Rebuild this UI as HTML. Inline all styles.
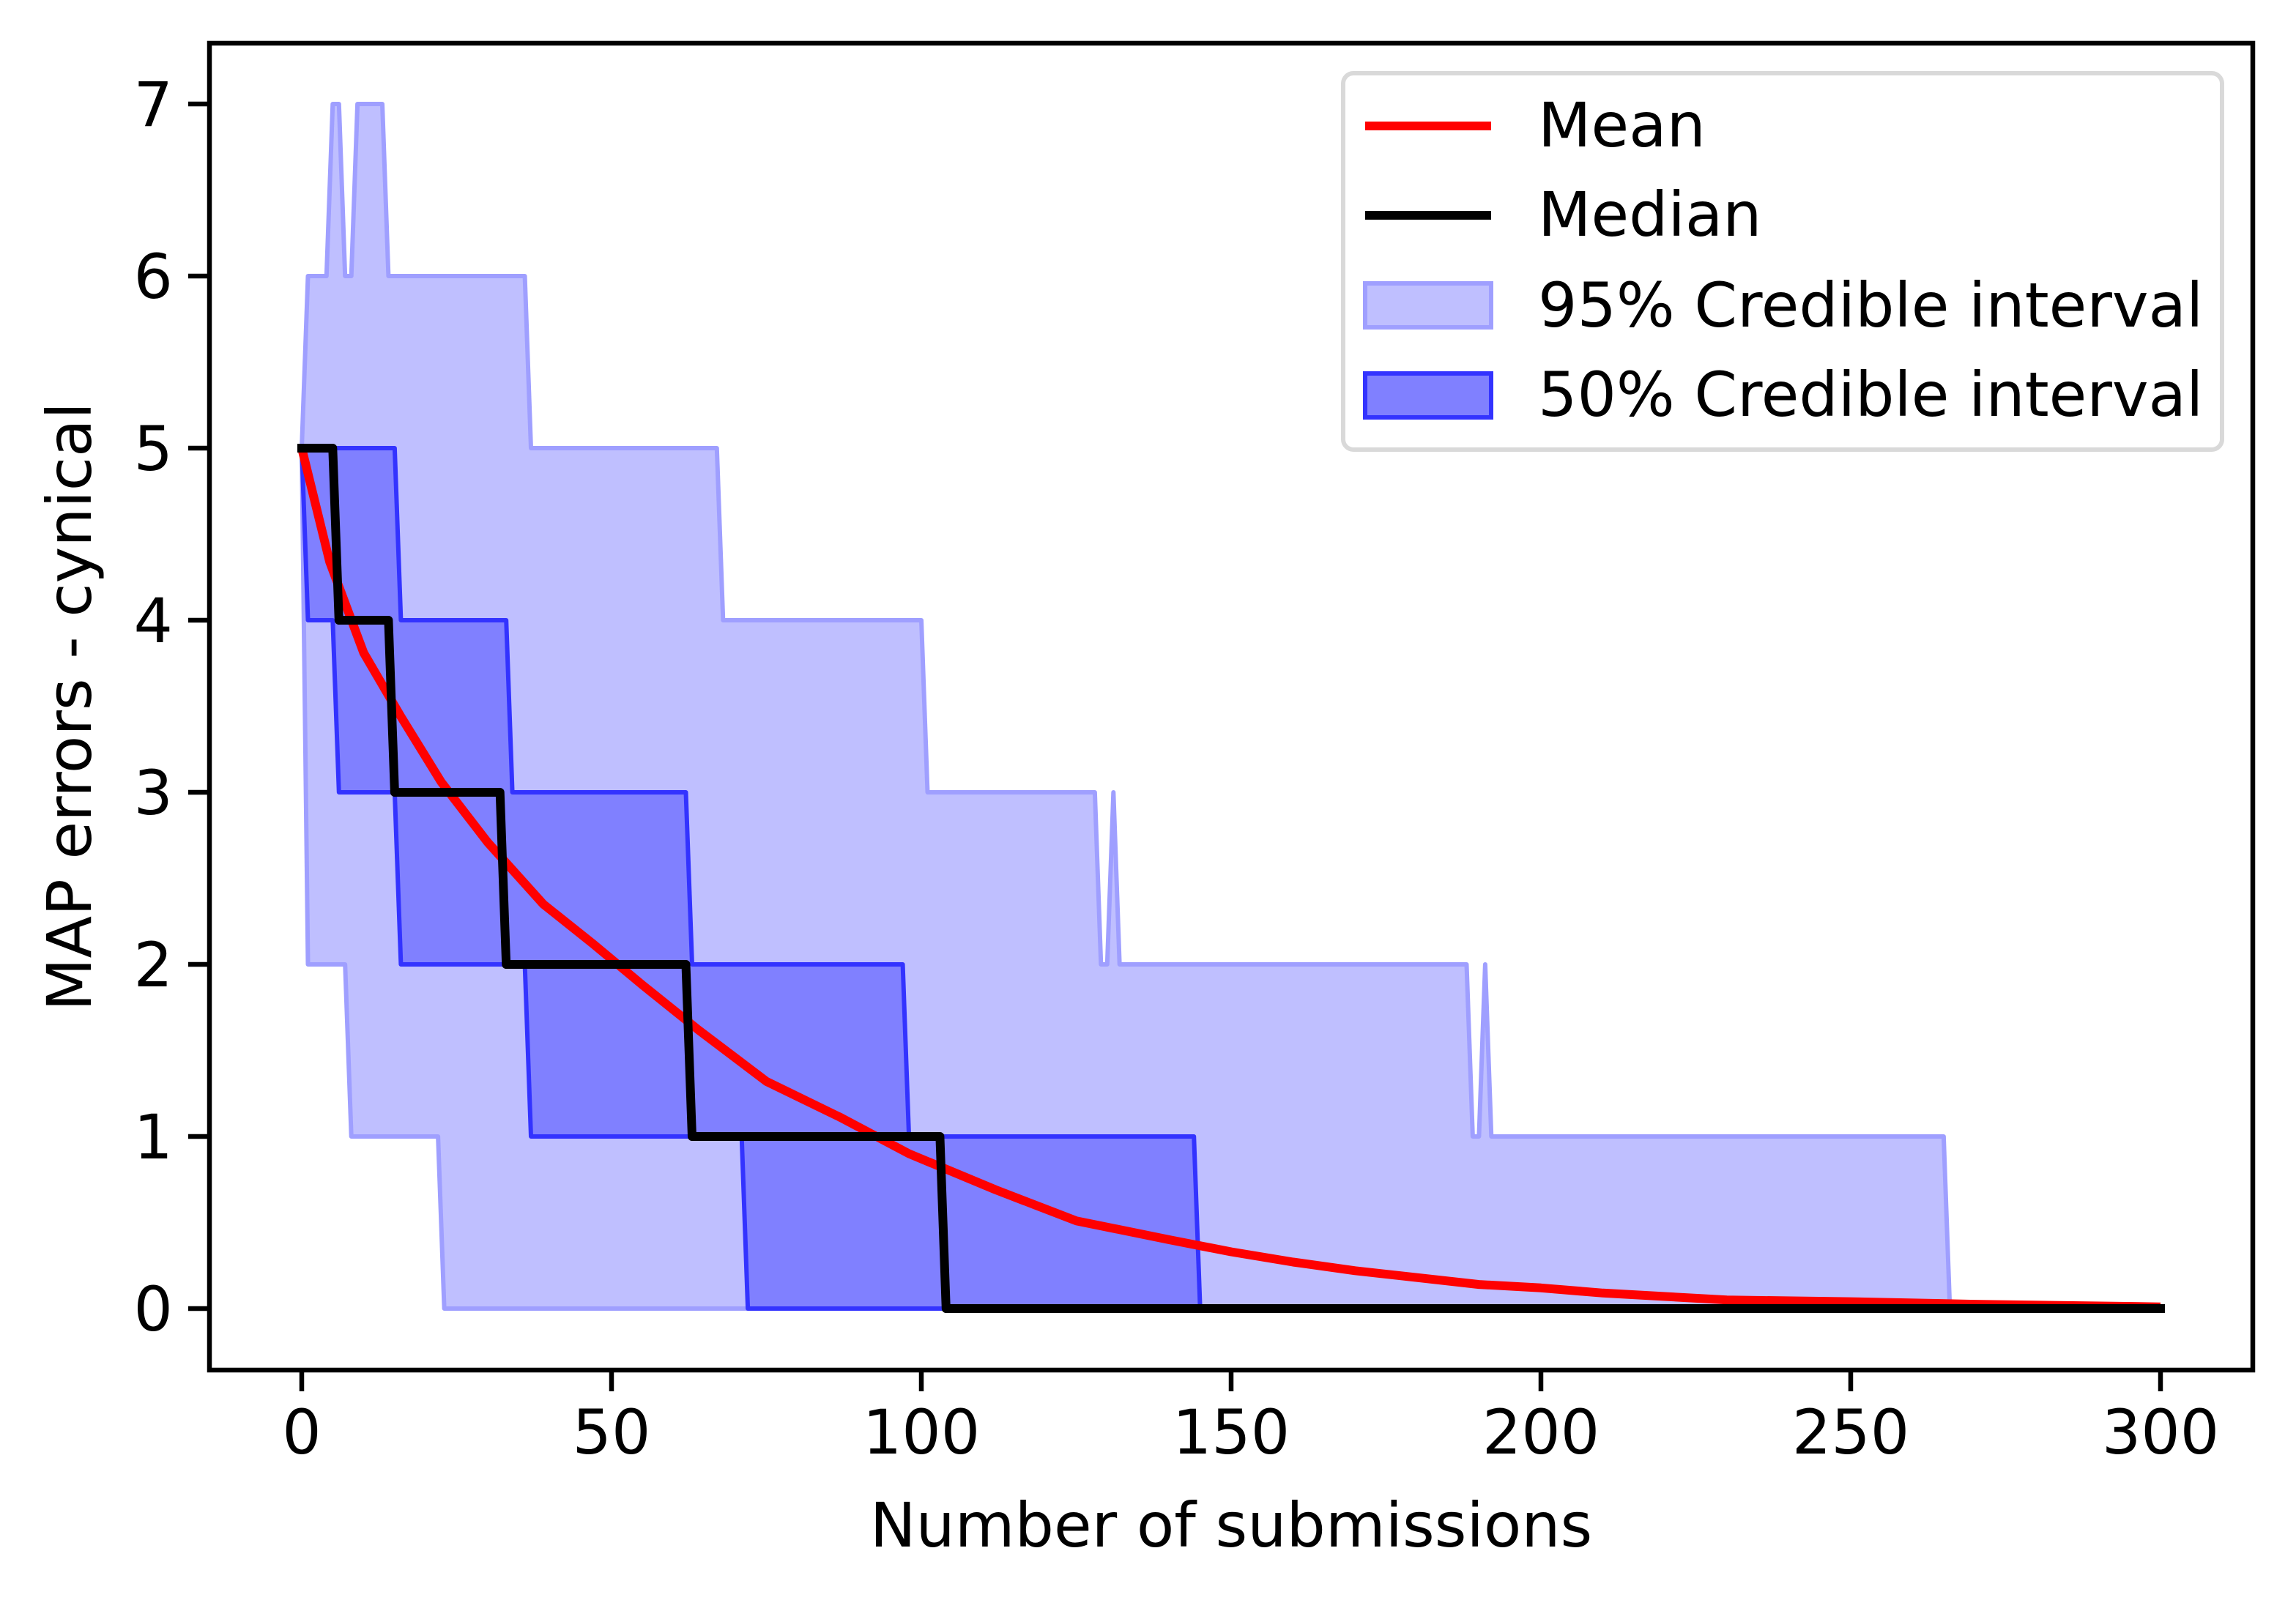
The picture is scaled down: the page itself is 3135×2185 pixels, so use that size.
<!DOCTYPE html>
<html><head><meta charset="utf-8"><style>
html,body{margin:0;padding:0;background:#fff;}
svg{display:block;font-family:"DejaVu Sans","Liberation Sans",sans-serif;}
</style></head><body>
<svg id="chart" width="3135" height="2185" viewBox="0 0 3135 2185" xmlns="http://www.w3.org/2000/svg">
<rect x="0" y="0" width="3135" height="2185" fill="#fff"/>
<g id="plot"></g>
<g id="axes"></g>
<text x="1681" y="2112" font-size="84" text-anchor="middle">Number of submissions</text>
<text x="124" y="965" font-size="84" text-anchor="middle" transform="rotate(-90 124 965)">MAP errors - cynical</text>
<g>
<rect x="1834" y="100" width="1200" height="514" rx="14" fill="#fff" fill-opacity="0.8" stroke="#d9d9d9" stroke-width="6"/>
<line x1="1864" y1="172" x2="2036" y2="172" stroke="#ff0000" stroke-width="12"/>
<text x="2100" y="200" font-size="84">Mean</text>
<line x1="1864" y1="294" x2="2036" y2="294" stroke="#000" stroke-width="12"/>
<text x="2100" y="322" font-size="84">Median</text>
<rect x="1864" y="387" width="172" height="60" fill="#bfbfff" stroke="#9f9fff" stroke-width="6"/>
<text x="2100" y="446" font-size="84">95% Credible interval</text>
<rect x="1864" y="510" width="172" height="60" fill="#8080ff" stroke="#3333ff" stroke-width="6"/>
<text x="2100" y="568" font-size="84">50% Credible interval</text>
</g>
</svg>
<script>
const up95X=[0,1,4,5,6,7,8,9,13,14,36,37,67,68,100,101,128,129,130,131,132,188,189,190,191,192,265,266,300];
const up95Y=[5,6,6,7,7,6,6,7,7,6,6,5,5,4,4,3,3,2,2,3,2,2,1,1,2,1,1,0,0];
const lo95X=[0,1,7,8,22,23,300];
const lo95Y=[5,2,2,1,1,0,0];
const up50X=[0,15,16,33,34,62,63,97,98,144,145,300];
const up50Y=[5,5,4,4,3,3,2,2,1,1,0,0];
const lo50X=[0,1,5,6,15,16,36,37,71,72,300];
const lo50Y=[5,4,4,3,3,2,2,1,1,0,0];
const medX=[0,5,6,14,15,32,33,62,63,103,104,300];
const medY=[5,5,4,4,3,3,2,2,1,1,0,0];
const meanX=[0,4.5,10,16,22.5,30,39,47,55,64,75,87,98,112,125,140,150,160,170,180,190,200,210,220,230,250,270,300];
const meanY=[5,4.34,3.81,3.44,3.06,2.71,2.35,2.12,1.88,1.62,1.32,1.11,0.9,0.69,0.51,0.4,0.33,0.27,0.22,0.18,0.14,0.12,0.09,0.07,0.05,0.04,0.025,0.01];
const xTicks=[0,50,100,150,200,250,300];
const yTicks=[0,1,2,3,4,5,6,7];

const L=286,R=3076,T=59,B=1871;
const sx=v=>412+v*8.46;
const sy=v=>1787-v*235;
const NS='http://www.w3.org/2000/svg';
const plot=document.getElementById('plot'), axes=document.getElementById('axes');
function mk(tag,attrs,parent){const e=document.createElementNS(NS,tag);for(const k in attrs)e.setAttribute(k,attrs[k]);parent.appendChild(e);return e;}
function pts(X,Y){return X.map((x,i)=>sx(x).toFixed(1)+','+sy(Y[i]).toFixed(1));}
function band(uX,uY,lX,lY,fill,stroke,name){
  const p=pts(uX,uY).concat(pts(lX,lY).reverse());
  const e=mk('polygon',{points:p.join(' '),fill:fill,stroke:stroke,'stroke-width':6,'stroke-linejoin':'round'},plot);
  
  
}
band(up95X,up95Y,lo95X,lo95Y,'#bfbfff','#9f9fff','band-95');
band(up50X,up50Y,lo50X,lo50Y,'#8080ff','#3333ff','band-50');
const mean=mk('polyline',{points:pts(meanX,meanY).join(' '),fill:'none',stroke:'#ff0000','stroke-width':12,'stroke-linejoin':'round'},plot);


const med=mk('polyline',{points:pts(medX,medY).join(' '),fill:'none',stroke:'#000','stroke-width':12,'stroke-linejoin':'round','stroke-linecap':'square'},plot);



const frame=mk('rect',{x:L,y:T,width:R-L,height:B-T,fill:'none',stroke:'#000','stroke-width':6.5},axes);


xTicks.forEach(v=>{
  const t=mk('line',{x1:sx(v),y1:B,x2:sx(v),y2:B+29,stroke:'#000','stroke-width':6.5},axes);
  
  
  const l=mk('text',{x:sx(v),y:B+114,'font-size':84,'text-anchor':'middle'},axes);
  
  
  l.textContent=v;
});
yTicks.forEach(v=>{
  const t=mk('line',{x1:L-29,y1:sy(v),x2:L,y2:sy(v),stroke:'#000','stroke-width':6.5},axes);
  
  
  const l=mk('text',{x:L-50,y:sy(v)+30,'font-size':84,'text-anchor':'end'},axes);
  
  
  l.textContent=v;
});
</script>
</body></html>
